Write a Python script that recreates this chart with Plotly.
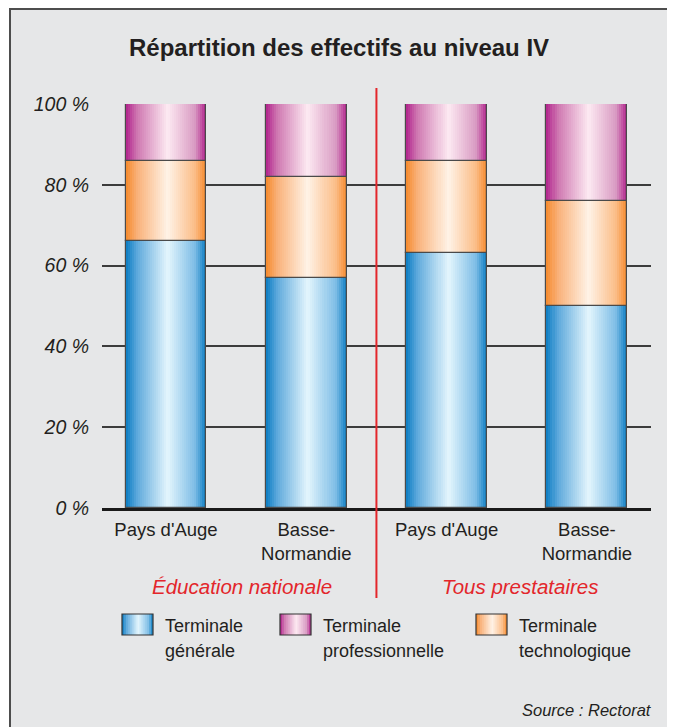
import plotly.graph_objects as go

# --- data ---
categories = ["Pays d'Auge", "Basse-<br>Normandie", "Pays d'Auge", "Basse-<br>Normandie"]
groups = ["Éducation nationale", "Tous prestataires"]
y_ticks = [0, 20, 40, 60, 80, 100]
y_tick_labels = ["0 %", "20 %", "40 %", "60 %", "80 %", "100 %"]

generale = [66, 57, 63, 50]
technologique = [20, 25, 23, 26]
professionnelle = [14, 18, 14, 24]

legend_labels = [("Terminale", "générale"), ("Terminale", "professionnelle"), ("Terminale", "technologique")]

# --- styling ---
FONT = "Liberation Sans, Arial, sans-serif"
TXT = "#231f20"
RED = "#e3262b"
BG = "#e6e7e8"

grad = {
    "generale": [(0, "#0a7cc2"), (0.14, "#5ea9dc"), (0.52, "#e4f6fd"), (0.86, "#7ebde6"), (1, "#0a7cc2")],
    "professionnelle": [(0, "#b1228c"), (0.14, "#cf78b1"), (0.52, "#fdeaf2"), (0.86, "#d99bc3"), (1, "#b1228c")],
    "technologique": [(0, "#f5892b"), (0.14, "#f9b179"), (0.52, "#fff3e7"), (0.86, "#fbbd88"), (1, "#f5892b")],
}


def interp(stops, t):
    for (t0, c0), (t1, c1) in zip(stops[:-1], stops[1:]):
        if t0 <= t <= t1:
            f = (t - t0) / (t1 - t0)
            a = [int(c0[i:i + 2], 16) for i in (1, 3, 5)]
            b = [int(c1[i:i + 2], 16) for i in (1, 3, 5)]
            r, g, bl = [round(x + (y - x) * f) for x, y in zip(a, b)]
            return f"rgb({r},{g},{bl})"
    return stops[-1][1]


# the page body has an 8px margin, so the figure starts at (8, 8) in the window
OFF = 8
FIG_W, FIG_H = 675 - OFF, 727 - OFF
# plot area in window pixels
L, R, T, B = 102, 651, 104, 508


def xp(px):
    return (px - L) / (R - L)


def yp(py):
    return (B - py) / (B - T)


fig = go.Figure()

pos = list(range(len(categories)))
W = 0.577
N = 40
base = [0] * len(pos)
for key, vals in [("generale", generale), ("technologique", technologique), ("professionnelle", professionnelle)]:
    for k in range(N):
        fig.add_trace(go.Bar(
            x=pos, y=vals, base=list(base),
            offset=-W / 2 + k * W / N, width=W - k * W / N,
            marker=dict(color=interp(grad[key], (k + 0.5) / N), line_width=0),
            showlegend=False, hoverinfo="skip"))
    fig.add_trace(go.Bar(
        x=pos, y=vals, base=list(base), offset=-W / 2, width=W,
        marker=dict(color="rgba(0,0,0,0)", line=dict(color="#4a4a4a", width=1.2)),
        showlegend=False, name=key))
    base = [b + v for b, v in zip(base, vals)]

shapes = [
    # frame
    dict(type="rect", xref="paper", yref="paper", x0=xp(10), x1=xp(668), y0=yp(760), y1=yp(9),
         fillcolor=BG, line=dict(color="#4d4d4d", width=2), layer="below"),
    # separator
    dict(type="line", xref="x", yref="paper", x0=1.5, x1=1.5, y0=yp(598), y1=yp(88),
         line=dict(color=RED, width=2)),
]

# legend swatches
sw_x = [122, 280, 476]
sw_keys = ["generale", "professionnelle", "technologique"]
NS = 16
for x0, key in zip(sw_x, sw_keys):
    w = 31
    for k in range(NS):
        shapes.append(dict(type="rect", xref="paper", yref="paper",
                           x0=xp(x0 + k * w / NS), x1=xp(x0 + w), y0=yp(635), y1=yp(614),
                           fillcolor=interp(grad[key], (k + 0.5) / NS), line_width=0))
    shapes.append(dict(type="rect", xref="paper", yref="paper", x0=xp(x0), x1=xp(x0 + w),
                       y0=yp(635), y1=yp(614), line=dict(color="#333333", width=1.2)))

annotations = [
    dict(text="<b>Répartition des effectifs au niveau IV</b>", x=xp(339), y=yp(47),
         font=dict(size=24, color=TXT, family=FONT)),
    dict(text="Source : Rectorat", x=xp(654), y=yp(710), xanchor="right",
         font=dict(size=16.5, color=TXT, family=FONT, style="italic")),
]
for gx, g in zip([242, 520], groups):
    annotations.append(dict(text=g, x=xp(gx), y=yp(586),
                            font=dict(size=20.5, color=RED, family=FONT, style="italic")))
for x0, (l1, l2) in zip(sw_x, legend_labels):
    for line, cy in [(l1, 626), (l2, 651)]:
        annotations.append(dict(text=line, x=xp(x0 + 41), y=yp(cy), xanchor="left",
                                font=dict(size=18, color=TXT, family=FONT)))
for a in annotations:
    a.update(xref="paper", yref="paper", showarrow=False, yanchor="middle")
    a.setdefault("xanchor", "center")

fig.update_layout(
    width=FIG_W, height=FIG_H,
    margin=dict(l=L - OFF, r=675 - R, t=T - OFF, b=727 - B),
    paper_bgcolor="white", plot_bgcolor="rgba(0,0,0,0)",
    barmode="overlay", bargap=0,
    showlegend=False,
    shapes=shapes, annotations=annotations,
    font=dict(family=FONT, color=TXT),
    xaxis=dict(range=[-0.456, 3.457], tickvals=pos, ticktext=categories, showgrid=False, zeroline=False,
               showline=True, linecolor="#1a1a1a", linewidth=3, ticks="", ticklabelstandoff=3,
               tickfont=dict(size=18.5, color=TXT, family=FONT)),
    yaxis=dict(range=[0, 100], tickvals=y_ticks, ticktext=y_tick_labels, showgrid=True,
               gridcolor="#3c3c3c", gridwidth=1.5, zeroline=False, ticks="", ticklabelstandoff=12,
               tickfont=dict(size=19.5, color=TXT, family=FONT, style="italic")),
)

fig.write_html("out.html")
